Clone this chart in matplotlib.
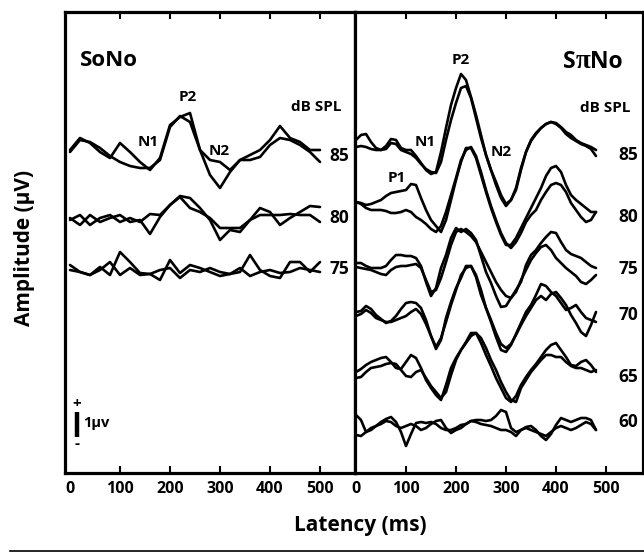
import matplotlib
matplotlib.use("Agg")
import matplotlib.pyplot as plt
from matplotlib.lines import Line2D
from matplotlib.transforms import ScaledTranslation

# ---------------- data (latency in ms, amplitude in microvolts) ----------------
lat_sono = list(range(0, 501, 20))
lat_spino = list(range(0, 481, 10))

levels_sono = [85, 80, 75]
levels_spino = [85, 80, 75, 70, 65, 60]

sono_85_a = [0.00, 0.48, 0.28, -0.08, -0.32, 0.28, -0.08, -0.48, -0.80, -0.32, 1.00, 1.32, 1.48,
             0.00, -1.00, -1.52, -0.88, -0.40, -0.20, 0.00, 0.40, 0.96, 0.48, 0.32, 0.00, 0.00]
sono_85_b = [-0.08, 0.40, 0.32, 0.08, -0.24, -0.48, -0.64, -0.72, -0.72, -0.40, 0.92, 1.36, 1.12,
             0.00, -0.40, -0.48, -0.80, -0.40, -0.40, -0.28, 0.20, 0.48, 0.40, 0.20, -0.08, -0.48]
sono_80_a = [-0.08, 0.12, -0.28, 0.00, 0.12, -0.16, 0.00, -0.16, 0.16, 0.12, 0.52, 0.88, 0.80,
             0.40, -0.08, -0.88, -0.48, -0.56, -0.08, 0.40, 0.24, -0.28, 0.00, 0.24, 0.48, 0.44]
sono_80_b = [0.00, -0.28, 0.12, -0.16, 0.00, 0.12, -0.16, -0.08, -0.64, 0.04, 0.52, 0.84, 0.40,
             0.24, 0.00, -0.40, -0.40, -0.40, -0.08, 0.12, 0.12, 0.12, 0.16, 0.12, 0.12, -0.16]
sono_75_a = [0.12, -0.16, -0.28, 0.04, -0.28, 0.64, 0.24, -0.20, -0.24, -0.48, 0.32, -0.20, 0.12,
             0.00, -0.16, -0.32, -0.24, -0.16, 0.52, -0.08, -0.32, -0.40, 0.24, 0.24, -0.16, 0.24]
sono_75_b = [-0.08, -0.16, -0.28, -0.08, 0.24, -0.28, 0.00, -0.28, -0.24, -0.08, 0.00, -0.40, -0.08,
             -0.16, 0.00, -0.16, -0.24, 0.00, -0.32, -0.16, -0.08, -0.20, -0.16, 0.00, -0.08, -0.16]

spino_85_a = [0.40, 0.60, 0.64, 0.32, 0.08, 0.00, 0.16, 0.44, 0.40, 0.08,
              0.00, 0.00, -0.24, -0.52, -0.80, -0.96, -0.88, -0.08, 0.88, 1.80,
              2.48, 3.04, 2.80, 2.12, 1.40, 0.60, -0.20, -0.80, -1.40, -1.92,
              -2.24, -2.00, -1.60, -0.80, -0.08, 0.40, 0.68, 0.88, 1.04, 1.12,
              1.08, 0.92, 0.72, 0.60, 0.40, 0.28, 0.20, 0.12, 0.00]
spino_85_b = [0.12, 0.16, 0.12, 0.04, 0.00, 0.00, 0.04, 0.28, 0.24, 0.00,
              -0.08, -0.16, -0.32, -0.56, -0.76, -0.88, -0.92, -0.48, 0.40, 1.20,
              1.88, 2.48, 2.56, 2.08, 1.28, 0.48, -0.20, -0.80, -1.28, -1.80,
              -2.16, -2.00, -1.52, -0.72, -0.08, 0.36, 0.64, 0.88, 1.04, 1.12,
              1.04, 0.88, 0.64, 0.48, 0.36, 0.24, 0.16, 0.04, -0.24]
spino_80_a = [0.32, 0.28, 0.20, 0.24, 0.32, 0.40, 0.56, 0.68, 0.72, 0.76,
              0.80, 1.04, 1.00, 0.48, 0.00, -0.40, -0.64, -0.88, -0.40, 0.40,
              1.20, 1.92, 2.48, 2.48, 2.08, 1.40, 0.72, 0.08, -0.48, -1.00,
              -1.40, -1.40, -1.12, -0.72, -0.32, 0.08, 0.48, 0.88, 1.36, 1.68,
              1.76, 1.52, 1.00, 0.60, 0.40, 0.24, 0.08, -0.08, -0.08]
spino_80_b = [0.32, 0.24, 0.08, 0.00, 0.00, 0.00, -0.04, -0.12, -0.12, -0.08,
              0.00, -0.08, -0.28, -0.40, -0.56, -0.76, -0.88, -0.64, -0.08, 0.60,
              1.28, 2.00, 2.40, 2.52, 2.16, 1.52, 0.80, 0.16, -0.40, -0.92,
              -1.32, -1.52, -1.28, -0.92, -0.48, -0.20, 0.00, 0.40, 0.72, 1.00,
              1.08, 1.00, 0.72, 0.28, 0.00, -0.28, -0.48, -0.40, -0.08]
spino_75_a = [0.08, 0.08, -0.04, -0.12, -0.12, -0.12, -0.04, 0.20, 0.40, 0.40,
              0.36, 0.36, 0.28, -0.04, -0.68, -1.24, -0.92, -0.12, 0.40, 1.08,
              1.48, 1.32, 1.44, 1.28, 1.00, 0.36, -0.28, -0.72, -1.24, -1.68,
              -1.64, -1.32, -1.00, -0.68, 0.00, 0.40, 0.60, 0.88, 1.12, 1.32,
              1.28, 0.92, 0.60, 0.44, 0.36, 0.28, 0.12, -0.04, -0.12]
spino_75_b = [-0.08, -0.12, -0.16, -0.20, -0.28, -0.36, -0.40, -0.20, -0.08, -0.04,
              -0.04, 0.00, 0.04, -0.12, -0.60, -1.08, -1.00, -0.52, 0.12, 0.80,
              1.32, 1.44, 1.32, 1.16, 0.92, 0.52, 0.12, -0.28, -0.68, -1.00,
              -1.24, -1.32, -1.08, -0.60, -0.20, 0.20, 0.48, 0.72, 0.80, 0.60,
              0.28, 0.08, -0.12, -0.28, -0.44, -0.68, -0.76, -0.60, -0.40]
spino_70_a = [0.04, 0.08, 0.28, 0.16, -0.08, -0.24, -0.40, -0.32, -0.12, 0.16,
              0.40, 0.44, 0.40, 0.20, -0.28, -0.92, -1.44, -1.08, -0.20, 0.44,
              1.00, 1.40, 1.88, 1.88, 1.52, 0.92, 0.20, -0.36, -0.96, -1.48,
              -1.56, -1.28, -0.84, -0.40, 0.04, 0.32, 0.72, 1.16, 1.08, 0.84,
              0.68, 0.40, 0.12, 0.20, 0.32, 0.04, -0.20, -0.28, -0.36]
spino_70_b = [-0.12, -0.04, 0.12, 0.00, -0.20, -0.28, -0.36, -0.36, -0.28, -0.20,
              -0.12, 0.04, 0.16, -0.04, -0.44, -0.92, -1.36, -1.00, -0.36, 0.32,
              0.92, 1.52, 1.80, 1.88, 1.44, 0.72, 0.20, -0.28, -0.80, -1.24,
              -1.40, -1.24, -0.88, -0.48, -0.12, 0.20, 0.52, 0.68, 0.52, 0.76,
              0.84, 0.60, 0.32, -0.08, -0.40, -0.76, -0.92, -0.48, 0.04]
spino_65_a = [0.00, 0.12, 0.28, 0.40, 0.48, 0.56, 0.60, 0.40, 0.16, 0.12,
              0.40, 0.68, 0.56, 0.16, -0.32, -0.64, -0.92, -1.12, -0.52, 0.16,
              0.56, 0.88, 1.20, 1.56, 1.56, 1.16, 0.68, 0.24, -0.24, -0.64,
              -1.04, -1.20, -0.96, -0.52, -0.20, 0.08, 0.32, 0.60, 0.88, 1.08,
              1.16, 0.88, 0.60, 0.28, 0.24, 0.40, 0.48, 0.28, 0.00]
spino_65_b = [-0.24, -0.20, 0.00, 0.16, 0.20, 0.24, 0.32, 0.36, 0.32, 0.08,
              -0.16, -0.20, 0.00, 0.08, -0.24, -0.56, -0.80, -1.04, -0.80, -0.12,
              0.48, 0.88, 1.16, 1.44, 1.56, 1.36, 0.96, 0.48, 0.08, -0.40,
              -0.80, -1.12, -1.20, -0.64, -0.32, 0.00, 0.24, 0.48, 0.68, 0.68,
              0.60, 0.60, 0.40, 0.24, 0.16, 0.16, 0.08, 0.00, 0.08]
spino_60_a = [0.40, 0.20, -0.28, -0.20, -0.04, 0.12, 0.24, 0.32, 0.12, -0.28,
              -0.84, -0.36, 0.08, 0.12, 0.08, 0.12, 0.04, -0.12, -0.20, -0.20,
              -0.12, 0.00, 0.04, 0.16, 0.20, 0.20, 0.16, 0.20, 0.36, 0.60,
              0.52, -0.12, -0.28, -0.20, -0.08, -0.04, -0.20, -0.44, -0.60, -0.36,
              0.00, 0.28, 0.20, 0.12, 0.20, 0.28, 0.28, 0.20, -0.20]
spino_60_b = [-0.40, -0.44, -0.28, -0.12, -0.04, 0.04, 0.16, 0.12, -0.04, -0.12,
              -0.04, 0.04, -0.04, -0.20, -0.12, 0.04, 0.16, 0.20, -0.12, -0.32,
              -0.20, -0.12, 0.04, 0.16, 0.12, 0.04, 0.00, -0.04, -0.12, -0.20,
              -0.20, -0.28, -0.44, -0.20, -0.12, -0.20, -0.28, -0.36, -0.44, -0.28,
              -0.12, -0.04, -0.12, -0.20, -0.12, 0.00, 0.12, 0.04, -0.20]

x_ticks = [0, 100, 200, 300, 400, 500]
scale_bar_uV = 1.0

# ---------------- layout / style ----------------
sono_traces = {85: (sono_85_a, sono_85_b), 80: (sono_80_a, sono_80_b), 75: (sono_75_a, sono_75_b)}
spino_traces = {85: (spino_85_a, spino_85_b), 80: (spino_80_a, spino_80_b),
                75: (spino_75_a, spino_75_b), 70: (spino_70_a, spino_70_b),
                65: (spino_65_a, spino_65_b), 60: (spino_60_a, spino_60_b)}
base_sono = {85: 12.92, 80: 10.2, 75: 8.2}
base_spino = {85: 12.92, 80: 10.52, 75: 8.32, 70: 6.4, 65: 4.04, 60: 1.92}
label_y_sono = {85: 12.68, 80: 10.2, 75: 8.16}
label_y_spino = {85: 12.72, 80: 10.24, 75: 8.16, 70: 6.32, 65: 3.84, 60: 2.04}

FONT = ['Open Sans', 'DejaVu Sans']
plt.rcParams['font.family'] = FONT
plt.rcParams['font.weight'] = 'bold'
WT = 'bold'

W, H = 644, 552
fig = plt.figure(figsize=(W / 100, H / 100), dpi=100)
YMAX = 461 / 25.0
ax1 = fig.add_axes([65 / W, (H - 473) / H, 290 / W, 461 / H])
ax2 = fig.add_axes([355 / W, (H - 473) / H, 288 / W, 461 / H])

LW = 1.9
for ax, xl in ((ax1, (-10, 570)), (ax2, (-2, 574))):
    ax.set_xlim(*xl)
    ax.set_ylim(0, YMAX)
    ax.set_yticks([])
    ax.set_xticks(x_ticks)
    ax.set_xticklabels([str(v) for v in x_ticks], fontsize=11.5, fontweight=WT)
    ax.tick_params(axis='x', direction='in', top=True, bottom=True, length=5, width=1.5, pad=6)
    ax.xaxis.get_major_ticks()[0].tick1line.set_visible(False)
    ax.xaxis.get_major_ticks()[0].tick2line.set_visible(False)
    for s in ax.spines.values():
        s.set_linewidth(2.3)
        s.set_color('black')

for lvl in levels_sono:
    for tr in sono_traces[lvl]:
        ax1.plot(lat_sono, [base_sono[lvl] + v for v in tr], color='black', lw=LW,
                 solid_joinstyle='round', solid_capstyle='round')
    ax1.text(538, label_y_sono[lvl], str(lvl), fontsize=12.5, fontweight=WT,
             ha='center', va='center')

for lvl in levels_spino:
    for tr in spino_traces[lvl]:
        ax2.plot(lat_spino, [base_spino[lvl] + v for v in tr], color='black', lw=LW,
                 solid_joinstyle='round', solid_capstyle='round')
    ax2.text(544, label_y_spino[lvl], str(lvl), fontsize=12.5, fontweight=WT,
             ha='center', va='center')

# annotations, left panel
ax1.text(20, 16.52, 'SoNo', fontsize=16, fontweight=WT, ha='left', va='center')
ax1.text(236, 15.04, 'P2', fontsize=11, fontweight=WT, ha='center', va='center')
ax1.text(156, 13.24, 'N1', fontsize=11, fontweight=WT, ha='center', va='center')
ax1.text(298, 12.88, 'N2', fontsize=11, fontweight=WT, ha='center', va='center')
ax1.text(492, 14.64, 'dB SPL', fontsize=11, fontweight=WT, ha='center', va='center')

# scale bar
ax1.plot([14, 14], [1.44, 1.44 + scale_bar_uV], color='black', lw=3.2, solid_capstyle='butt')
ax1.text(14, 2.74, '+', fontsize=11, fontweight=WT, ha='center', va='center')
ax1.text(14, 1.16, '-', fontsize=11, fontweight=WT, ha='center', va='center')
ax1.text(26, 2.0, '1\u00b5v', fontsize=10.5, fontweight=WT, ha='left', va='center')

# annotations, right panel
ax2.text(210, 16.52, 'P2', fontsize=11, fontweight=WT, ha='center', va='center')
ax2.text(498, 14.6, 'dB SPL', fontsize=11, fontweight=WT, ha='center', va='center')
ax2.text(138, 13.24, 'N1', fontsize=11, fontweight=WT, ha='center', va='center')
ax2.text(290, 12.84, 'N2', fontsize=11, fontweight=WT, ha='center', va='center')
ax2.text(82, 11.8, 'P1', fontsize=11, fontweight=WT, ha='center', va='center')

# "SπNo" title with a serif pi, assembled from three pieces on one baseline
fig.canvas.draw()
renderer = fig.canvas.get_renderer()
pieces = [('S', ['Open Sans', 'DejaVu Sans']), ('\u03c0', ['Liberation Serif', 'DejaVu Serif']),
          ('No', ['Open Sans', 'DejaVu Sans'])]
x0, y0 = 414, 16.2
dx = 0.0
for txt, fam in pieces:
    t = ax2.text(x0, y0, txt, fontsize=16.5 if fam[0] == 'Open Sans' else 19.5,
                 fontweight=WT, ha='left', va='baseline', family=fam,
                 transform=ax2.transData + ScaledTranslation(dx / fig.dpi, 0, fig.dpi_scale_trans))
    bb = t.get_window_extent(renderer=renderer)
    dx += bb.width

# axis titles
fig.text(25 / W, 1 - 248 / H, 'Amplitude (\u00b5V)', rotation=90, fontsize=15,
         fontweight=WT, ha='center', va='center')
fig.text(360 / W, 1 - 525 / H, 'Latency (ms)', fontsize=15, fontweight=WT,
         ha='center', va='center')

# bottom rule
fig.add_artist(Line2D([10 / W, 1.0], [1.2 / H, 1.2 / H], color='black', lw=1.2,
                      transform=fig.transFigure))

fig.savefig('out.png', dpi=100)
